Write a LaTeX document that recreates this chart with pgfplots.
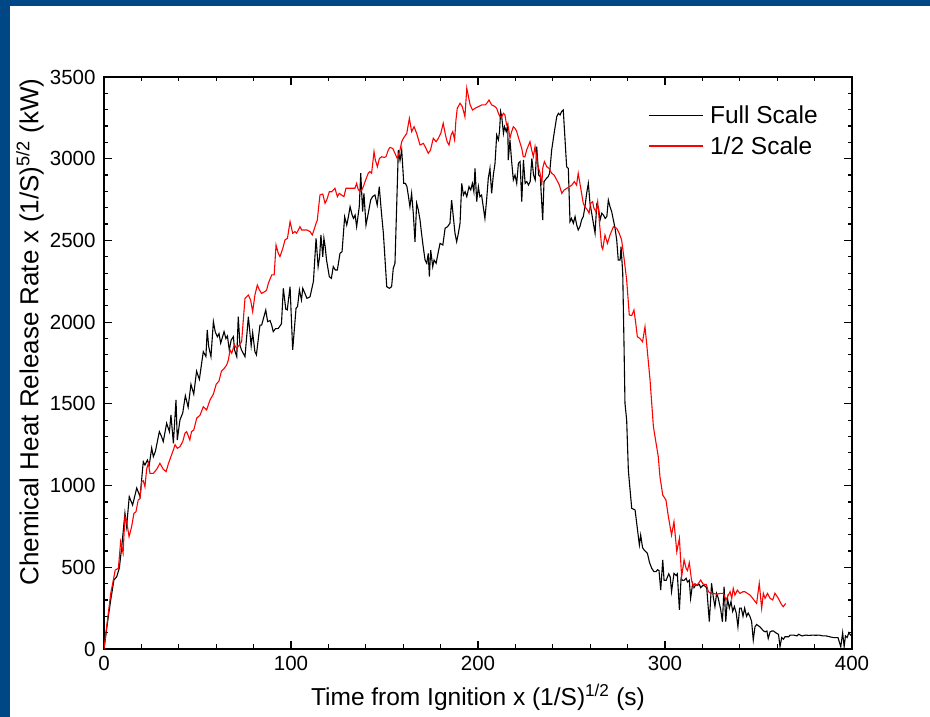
\documentclass[border=0pt]{standalone}
\usepackage{pgfplots}
\pgfplotsset{compat=1.18}
\usepackage{fontspec}
\setmainfont{Liberation Sans}
\definecolor{slideblue}{RGB}{0,71,133}
\begin{document}
\begin{tikzpicture}[x=1pt,y=1pt]
\fill[white] (-104,-68) rectangle (826,649);
\fill[slideblue] (-104,643) rectangle (826,649);
\fill[slideblue] (-104,-68) rectangle (-94,649);
\begin{axis}[at={(0,0)}, anchor=south west, scale only axis,
  width=748pt, height=572pt,
  xmin=0, xmax=400, ymin=0, ymax=3500,
  xtick={0,100,...,400}, ytick={0,500,...,3500},
  minor x tick num=4, minor y tick num=4,
  tick align=inside, major tick length=8pt, minor tick length=4.5pt,
  axis line style={line width=1.4pt},
  every tick/.style={line width=1.2pt, black},
  /pgf/number format/assume math mode=true,
  /pgf/number format/1000 sep={},
  ticklabel style={font=\fontsize{20.5}{22}\selectfont},
  xticklabel style={yshift=-4pt},
  yticklabel style={xshift=-5pt},
  xlabel={Time from Ignition x (1/S)\textsuperscript{1/2} (s)},
  ylabel={Chemical Heat Release Rate x (1/S)\textsuperscript{5/2} (kW)},
  xlabel style={font=\fontsize{24.5}{26}\selectfont, at={(axis description cs:0.5,-0.084)}, anchor=center},
  ylabel style={font=\fontsize{26}{28}\selectfont, at={(axis description cs:-0.099,0.554)}, anchor=center},
  legend style={at={(axis description cs:0.727,0.953)}, anchor=north west,
    draw=none, fill=none, font=\fontsize{24.5}{26}\selectfont,
    row sep=7pt, inner sep=0pt, nodes={inner sep=2pt}},
  legend cell align=left,
  legend image code/.code={\draw[#1] (0pt,0pt) -- (54pt,0pt); \path (59pt,0pt);},
]
\addplot[black, line width=1.1pt] table {
0 0
2.3 198
3.6 300
5.3 422
6.8 442
8.2 496
9.5 626
11.2 832
12.1 748
13.5 932
15.3 881
17.5 985
19.3 932
21.0 1146
21.9 1126
23.2 1156
24.2 1126
25.5 1230
26.4 1177
27.5 1210
29.6 1330
30.8 1299
31.7 1269
33.5 1381
35.0 1330
35.8 1432
37.1 1259
38.5 1524
39.2 1279
40.6 1401
42.1 1444
43.5 1550
45.0 1480
46.5 1620
48.0 1560
49.5 1700
51.0 1650
53.1 1819
54.5 1790
55.2 1952
56.0 1850
57.2 1789
58.5 2003
59.5 1940
60.6 1911
61.5 1930
62.4 1871
64.2 1942
65.2 1900
66.0 1915
67.0 1830
68.0 1890
69.2 1911
69.8 1830
71.0 1789
71.8 2033
72.7 1860
73.5 1830
75.4 1789
77.2 2033
78.0 1940
78.7 1855
79.5 1936
80.7 1819
81.5 1800
83.4 1982
84.3 1982
86.5 2074
87.5 2003
88.8 2010
89.7 1980
90.5 1942
91.7 1960
93.1 1960
94.9 1990
95.9 2207
97.2 2080
98.0 2075
99.5 2217
100.9 1830
102.7 2085
103.5 2095
104.5 2197
105.6 2136
106.3 2207
107.4 2177
108.5 2146
109.4 2150
110.2 2156
112.0 2250
113.4 2513
114.5 2339
115.3 2400
116.0 2533
117.0 2400
117.6 2513
118.3 2460
119.0 2380
120.5 2278
121.6 2268
122.6 2340
123.7 2319
124.8 2319
126.2 2421
127.3 2431
128.7 2645
129.8 2594
130.7 2645
131.6 2706
132.7 2655
133.4 2635
134.3 2655
135.1 2584
136.5 2706
137.3 2911
138.3 2676
139.0 2788
140.1 2594
141.3 2665
142.6 2747
143.6 2768
144.9 2778
146.1 2716
147.2 2829
148.4 2665
149.4 2544
151.2 2217
152.6 2207
153.8 2217
154.7 2330
155.6 2360
156.5 2706
157.4 3053
158.3 2990
159.2 3053
160.3 2849
161.2 2849
162.0 2829
162.7 2778
163.6 2706
164.5 2788
165.4 2665
166.3 2492
167.2 2727
168.1 2686
169.0 2625
169.8 2544
170.7 2461
171.7 2380
172.6 2360
173.4 2421
174.0 2278
174.7 2441
175.8 2339
176.5 2380
177.6 2360
178.8 2431
179.7 2482
181.2 2472
182.4 2574
183.7 2584
185.0 2605
185.9 2747
186.8 2645
187.7 2544
188.6 2492
189.5 2544
190.4 2605
191.3 2849
192.2 2778
193.1 2798
194.0 2768
195.2 2829
196.1 2809
197.0 2849
197.8 2798
198.4 2941
199.3 2737
200.2 2829
201.0 2768
201.9 2778
202.8 2706
203.7 2635
204.6 2747
205.5 2880
206.4 2941
207.3 2788
208.2 2900
209.1 2972
210.0 3145
210.9 3115
211.5 3166
212.1 3288
212.7 3257
213.6 3155
214.2 3196
215.1 3166
215.9 3206
216.2 2992
217.1 3115
218.0 2982
218.9 2870
219.8 2900
220.7 2849
221.6 2972
222.5 2982
223.4 2737
224.3 2992
225.2 2849
226.1 2860
227.0 2839
227.9 2860
228.8 3002
229.7 2900
230.6 2870
231.4 3074
232.4 2900
233.3 2890
234.6 2625
235.3 2860
236.6 2880
237.5 2890
238.3 2911
239.4 3053
240.7 3155
242.1 3257
243.0 3278
243.9 3268
244.7 3288
245.6 3298
246.5 3125
247.4 2951
248.3 2941
249.2 2615
250.0 2635
251.0 2605
251.9 2646
252.8 2594
253.6 2564
254.5 2584
255.4 2625
256.3 2646
257.2 2706
258.1 2788
259.0 2849
259.9 2727
260.8 2666
261.7 2605
262.6 2544
263.5 2720
264.4 2700
265.3 2625
266.2 2666
267.1 2655
268.0 2635
268.9 2646
269.7 2747
270.6 2706
271.5 2676
272.4 2625
273.3 2574
274.2 2500
275.0 2380
276.0 2380
276.5 2462
277.4 2299
278.1 1850
278.6 1503
279.5 1401
280.4 1095
280.7 1054
282.2 861
284.0 851
285.1 748
286.3 636
287.0 697
288.0 620
288.8 606
290.6 585
291.7 530
292.9 494
294.1 473
295.2 473
296.0 485
296.8 480
297.7 361
298.8 545
299.5 420
300.6 420
301.3 440
302.0 460
302.8 440
303.5 351
304.8 463
305.9 450
306.6 460
307.7 239
308.6 433
309.4 420
310.2 420
311.3 433
312.0 410
313.0 420
313.7 310
314.8 402
315.5 375
316.6 395
317.3 390
318.4 395
319.1 375
320.3 390
321.4 385
322.3 375
323.7 167
324.9 402
325.8 320
326.7 259
327.6 340
328.5 310
329.8 240
330.7 167
331.6 382
332.5 167
333.4 310
334.4 250
335.3 290
336.2 230
337.1 260
338.1 220
339.0 136
339.9 250
340.8 250
341.7 200
342.6 250
343.6 200
344.5 220
345.4 200
346.3 170
347.2 55
348.1 135
349.0 150
350.8 135
352.7 110
353.6 105
354.5 110
355.2 65
356.2 105
357.1 110
358.0 110
359.8 95
360.7 90
361.5 14
362.4 70
363.3 60
364.2 75
366.1 75
366.9 85
368.8 85
370.6 80
371.5 90
373.3 80
375.2 85
377.0 83
378.9 85
380.7 84
382.5 85
384.4 80
386.2 80
388.0 75
389.9 70
391.5 70
392.5 70
394.0 14
395.0 100
395.8 14
396.5 80
397.4 70
398.3 100
399.2 85
400 90
};
\addlegendentry{Full Scale}
\addplot[red, line width=1.1pt] table {
0 0
1.4 136
2.3 218
3.6 341
5.0 422
6.0 483
7.7 494
8.9 657
10.2 586
11.2 810
12.0 790
13.4 687
14.8 750
16.0 830
17.1 840
18.3 912
19.2 920
20.2 1024
21.0 1030
21.9 993
22.8 1100
23.7 1136
24.6 1075
26.4 1075
28.2 1100
29.9 1136
31.7 1100
33.2 1085
34.5 1136
36.2 1190
37.1 1218
38.0 1250
39.2 1228
40.6 1238
42.1 1269
43.3 1320
44.2 1330
45.9 1279
46.8 1330
48.0 1340
49.6 1412
51.4 1432
53.1 1483
54.9 1463
56.7 1524
58.5 1560
60.0 1620
61.5 1640
62.8 1700
64.5 1720
65.7 1740
66.5 1768
67.4 1830
68.3 1810
69.7 1860
71.0 1840
72.4 1860
73.6 1880
74.5 2013
75.4 2146
77.2 2166
78.4 2135
79.5 2064
80.7 2166
82.0 2227
83.1 2197
84.3 2176
86.1 2187
87.0 2197
87.9 2238
89.7 2289
91.0 2289
92.0 2472
93.2 2421
94.1 2401
95.6 2451
96.8 2503
98.1 2513
99.5 2615
100.9 2544
102.1 2554
103.0 2544
104.8 2584
105.7 2564
106.6 2564
108.4 2564
110.2 2554
111.4 2533
112.3 2564
113.4 2605
114.1 2625
114.7 2696
115.5 2778
117.0 2784
118.2 2727
119.1 2747
120.5 2798
121.8 2798
122.7 2809
123.5 2819
124.8 2768
125.8 2788
127.0 2778
128.3 2768
129.4 2819
130.7 2819
132.5 2819
134.2 2819
135.1 2849
136.0 2809
137.3 2798
138.7 2829
139.6 2860
141.3 2911
142.2 2921
143.1 2911
144.4 3043
145.1 2992
146.2 2951
147.3 3002
148.5 3012
149.8 3008
150.8 3012
152.0 3053
152.9 3069
154.4 3063
155.6 3033
156.8 3002
158.3 3053
159.2 3104
160.1 3125
161.9 3155
163.3 3247
164.5 3166
165.8 3196
167.2 3155
169.0 3084
170.8 3094
172.2 3063
173.4 3033
174.6 3053
176.1 3125
177.6 3104
178.8 3125
180.1 3155
181.4 3217
182.6 3145
183.5 3104
184.5 3084
185.6 3145
186.5 3166
187.5 3115
188.2 3236
188.9 3308
190.4 3339
191.6 3319
193.0 3257
194.0 3431
194.9 3380
195.8 3329
197.1 3298
198.4 3308
200.2 3319
202.0 3329
203.8 3329
204.7 3339
205.9 3359
207.3 3329
209.1 3319
210.0 3308
210.9 3278
211.8 3257
212.7 3257
213.6 3278
214.4 3268
215.3 3206
216.2 3196
217.1 3125
218.0 3166
218.9 3196
219.8 3186
220.7 3166
222.0 3115
223.4 3063
224.2 3012
225.1 3012
226.0 3053
227.8 3104
228.7 3053
229.6 3012
230.5 3074
231.4 3002
232.2 2951
233.2 2911
234.1 2839
234.6 2941
235.5 2982
236.8 2951
238.0 2941
239.4 2911
240.7 2900
242.1 2870
243.5 2839
244.8 2788
246.1 2809
247.5 2819
248.9 2829
250.2 2839
251.5 2860
252.7 2839
253.6 2911
254.5 2849
255.4 2788
256.3 2727
257.2 2706
258.5 2686
259.4 2666
260.2 2727
261.3 2737
262.0 2696
263.1 2676
264.0 2737
264.9 2615
266.1 2462
266.7 2446
267.9 2533
269.2 2482
270.6 2533
272.4 2584
274.2 2574
275.5 2544
276.8 2503
278.0 2400
279.5 2258
280.9 2044
282.2 2040
283.4 2074
284.4 1990
285.2 1911
286.6 1900
288.0 1880
289.3 1972
290.1 1880
292.0 1646
293.8 1360
296.4 1177
297.3 1054
298.8 942
300.5 912
301.8 810
303.5 697
304.8 779
306.3 595
307.7 677
308.9 442
310.2 545
311.3 493
312.0 480
313.0 528
314.2 420
315.1 382
316.0 400
316.9 390
317.8 400
319.1 422
320.2 400
321.0 395
322.1 395
323.2 351
324.5 340
326.0 340
327.7 335
329.4 340
331.2 340
332.6 300
333.5 320
334.8 351
335.7 310
336.5 371
337.4 330
338.7 360
340.1 340
341.6 350
342.8 350
344.1 340
345.5 330
346.9 310
348.2 290
349.0 279
350.4 402
351.7 249
352.6 340
353.5 310
354.8 340
356.2 310
357.6 300
358.8 341
360.6 310
362.4 270
363.3 259
364.5 279
};
\addlegendentry{1/2 Scale}
\end{axis}
\end{tikzpicture}
\end{document}
